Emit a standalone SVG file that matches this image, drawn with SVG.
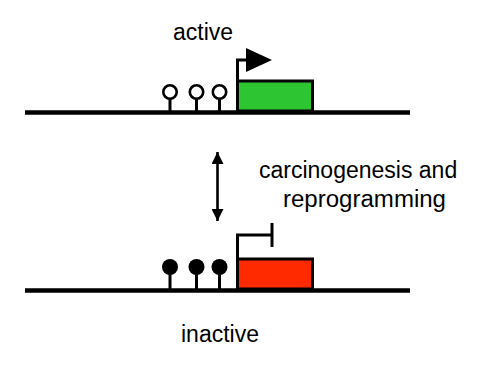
<svg xmlns="http://www.w3.org/2000/svg" width="500" height="370" viewBox="0 0 500 370">
<style>
.t{font-family:"Liberation Sans",Arial,sans-serif;font-size:23px;fill:#000}
.ln{stroke:#000;stroke-width:4.5;fill:none}
.st{stroke:#000;stroke-width:3;fill:none}
</style>
<defs>
<marker id="ah" viewBox="0 0 10 10" refX="10" refY="5" markerWidth="12" markerHeight="12" orient="auto-start-reverse" markerUnits="userSpaceOnUse">
<path d="M0,0 L10,5 L0,10 z" fill="#000"/>
</marker>
</defs>
<rect width="500" height="370" fill="#fff"/>
<g id="active-gene">
<line class="ln" x1="25" y1="112.5" x2="410" y2="112.5"/>
<rect x="237.5" y="81" width="75" height="30" fill="#2ec533" stroke="#000" stroke-width="3"/>
<polyline class="st" points="237.5,111 237.5,60 248,60"/>
<polygon points="246,48 272,60 246,72" fill="#000"/>
<g class="st">
<line x1="170" y1="99" x2="170" y2="111"/>
<line x1="196.5" y1="99" x2="196.5" y2="111"/>
<line x1="219.5" y1="99" x2="219.5" y2="111"/>
</g>
<circle cx="170" cy="92" r="6.7" fill="#fff" stroke="#000" stroke-width="2.6"/>
<circle cx="196.5" cy="92" r="6.7" fill="#fff" stroke="#000" stroke-width="2.6"/>
<circle cx="219.5" cy="92" r="6.7" fill="#fff" stroke="#000" stroke-width="2.6"/>
<text class="t" x="203" y="40" text-anchor="middle">active</text>
</g>
<g id="inactive-gene">
<line class="ln" x1="25" y1="290.5" x2="410" y2="290.5"/>
<rect x="237.5" y="259" width="75" height="30" fill="#ff2a00" stroke="#000" stroke-width="3"/>
<polyline class="st" points="237.5,289 237.5,235 272,235"/>
<line class="st" x1="272" y1="223" x2="272" y2="247" stroke-width="4"/>
<g class="st">
<line x1="170" y1="268" x2="170" y2="289"/>
<line x1="196.5" y1="268" x2="196.5" y2="289"/>
<line x1="219.5" y1="268" x2="219.5" y2="289"/>
</g>
<circle cx="170" cy="267" r="8" fill="#000"/>
<circle cx="196.5" cy="267" r="8" fill="#000"/>
<circle cx="219.5" cy="267" r="8" fill="#000"/>
<text class="t" x="220" y="342" text-anchor="middle">inactive</text>
</g>
<g id="connectors">
<line x1="217.5" y1="152" x2="217.5" y2="221" stroke="#000" stroke-width="2.6" marker-start="url(#ah)" marker-end="url(#ah)"/>
</g>
<g id="label">
<text class="t" x="259" y="178">carcinogenesis and</text>
<text class="t" x="283" y="207" textLength="163" lengthAdjust="spacingAndGlyphs">reprogramming</text>
</g>
</svg>
